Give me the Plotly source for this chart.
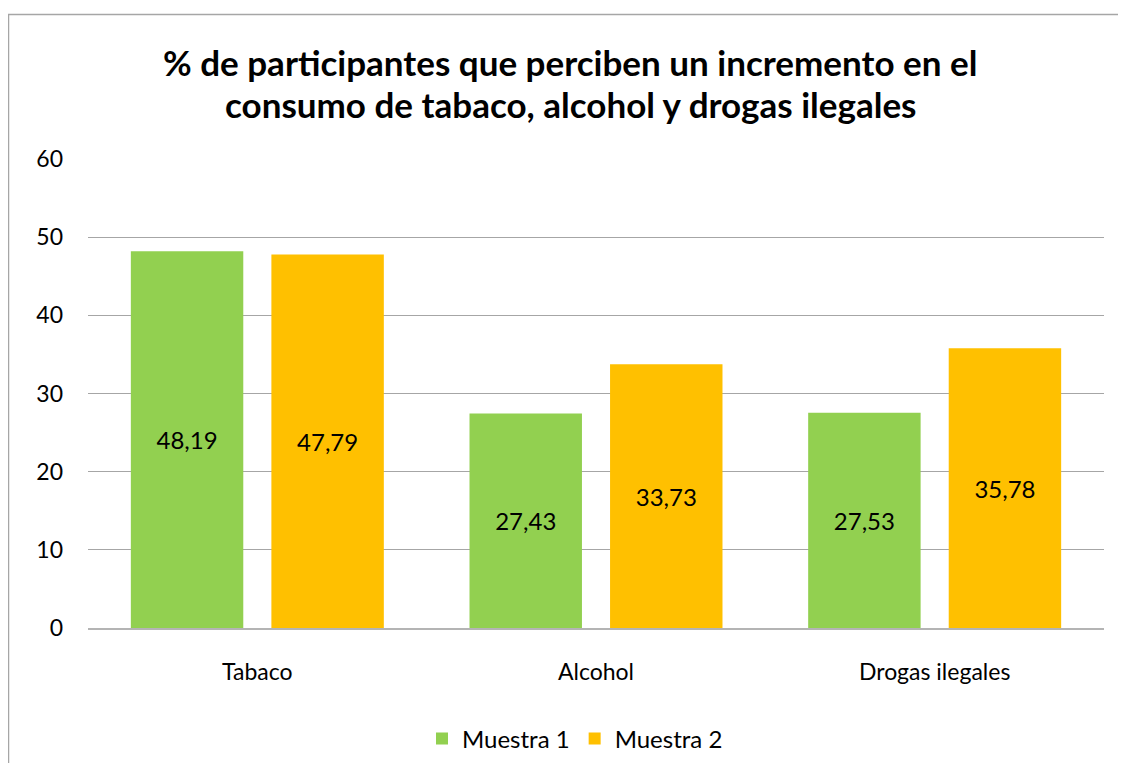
import plotly.graph_objects as go

categories = ["Tabaco", "Alcohol", "Drogas ilegales"]
muestra1 = [48.19, 27.43, 27.53]
muestra2 = [47.79, 33.73, 35.78]
series_names = ["Muestra 1", "Muestra 2"]
colors = ["#92D050", "#FFC000"]
title_lines = ["% de participantes que perciben un incremento en el",
               "consumo de tabaco, alcohol y drogas ilegales"]

FONT = "Lato, Calibri, sans-serif"

# page has an 8px body margin: figure = 1110x755 at offset (8, 8)
OFF = 8
W, H = 1110, 755
L, R, T, B = 88 - OFF, 14, 159 - OFF, 135
pw, ph = W - L - R, H - T - B


def px_x(p):  # reference page pixel -> paper x
    return (p - OFF - L) / pw


def px_y(p):  # reference page pixel -> paper y
    return (H - B - (p - OFF)) / ph


fig = go.Figure()
for name, vals, col in zip(series_names, [muestra1, muestra2], colors):
    fig.add_trace(go.Bar(
        x=categories, y=vals, name=name, marker_color=col,
        marker_line_width=0,
        text=vals, texttemplate="%{y:.2f}", textposition="inside",
        insidetextanchor="middle", textangle=0,
        textfont=dict(color="black", size=24, family=FONT),
    ))

annotations = []
for line, yref_px in zip(title_lines, [62, 104]):
    annotations.append(dict(
        text="<b>" + line + "</b>", xref="paper", yref="paper",
        x=px_x(570), y=px_y(yref_px), xanchor="center", yanchor="middle",
        showarrow=False, font=dict(size=35, family=FONT, color="black")))

fig.update_layout(
    separators=",.",
    barmode="group", bargap=0.17, bargroupgap=0.2,
    paper_bgcolor="white", plot_bgcolor="white",
    margin=dict(l=L, r=R, t=T, b=B, autoexpand=False),
    font=dict(family=FONT, size=23, color="black"),
    annotations=annotations,
    showlegend=True,
    legend=dict(orientation="h", x=px_x(575), xanchor="center",
                y=px_y(739), yanchor="middle", font=dict(size=24, family=FONT),
                itemsizing="constant", traceorder="normal"),
    yaxis=dict(range=[0, 60], dtick=10, showgrid=True, gridcolor="#A6A6A6",
               gridwidth=1, zeroline=False, showline=False, automargin=False,
               ticks="", ticklabelstandoff=24, tickfont=dict(size=23)),
    xaxis=dict(showline=True, linecolor="#B4B4B4", linewidth=2, ticks="",
               automargin=False,
               ticklabelstandoff=22, tickfont=dict(size=23)),
    shapes=[dict(type="rect", xref="paper", yref="paper",
                 x0=px_x(8.5), x1=px_x(1140), y0=px_y(790), y1=px_y(14.5),
                 line=dict(color="#A6A6A6", width=1.5), fillcolor="rgba(0,0,0,0)",
                 layer="below")],
)

fig.write_html("out.html")
